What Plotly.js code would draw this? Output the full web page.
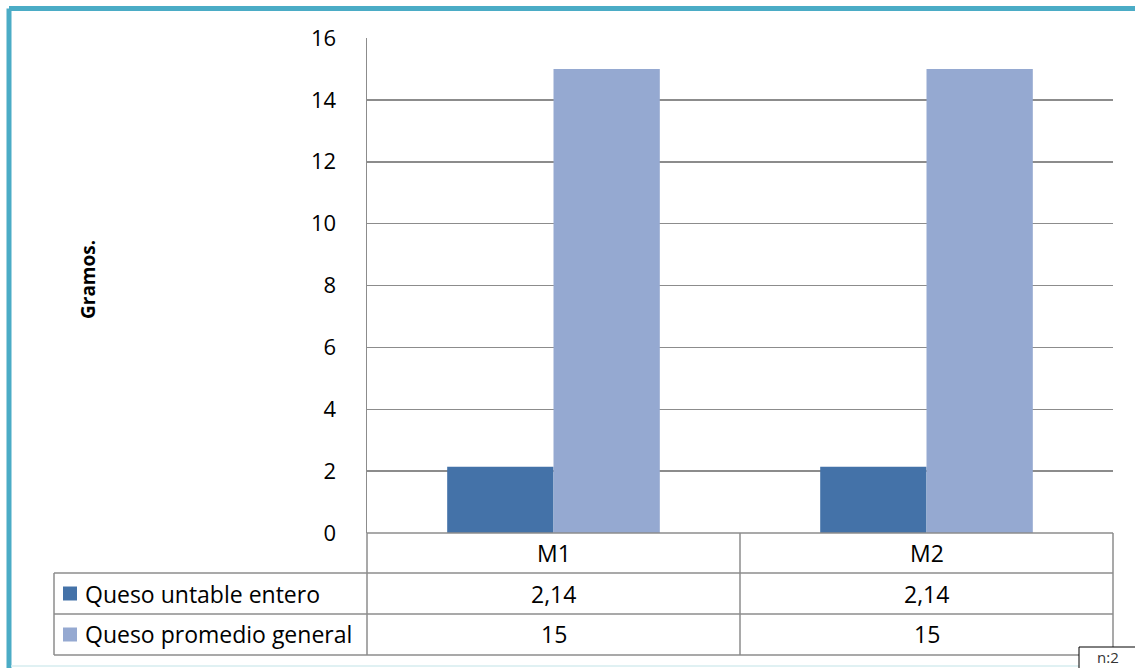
<!DOCTYPE html>
<html><head><meta charset="utf-8">
<script src="https://cdn.plot.ly/plotly-3.0.1.min.js"></script>
<style>html,body{margin:0;padding:0;background:#fff;}#chart{width:1135px;height:668px;}</style>
</head><body><div id="chart"></div>
<script>
const categories = ['M1', 'M2'];
const seriesNames = ['Queso untable entero', 'Queso promedio general'];
const untable = [2.14, 2.14];
const promedio = [15, 15];
const yTicks = [0, 2, 4, 6, 8, 10, 12, 14, 16];
const yTitle = 'Gramos.';
const note = 'n:2';

const colors = ['#4472A8', '#95A9D1'];
const FONT = '"Open Sans", "Noto Sans", sans-serif';
const FS = 23;
const W = 1135, H = 668;
const L = 367, R = 1113, T = 38, B = 533;
const px = x => (x - L) / (R - L);
const py = y => (B - y) / (B - T);
const fmt = v => String(v).replace('.', ',');

const traces = [
  {type: 'bar', x: categories, y: untable, name: seriesNames[0], marker: {color: colors[0]}, hoverinfo: 'y'},
  {type: 'bar', x: categories, y: promedio, name: seriesNames[1], marker: {color: colors[1]}, hoverinfo: 'y'}
];

const lineCol = '#8c8c8c';
const shapes = [];
const annotations = [];
function hl(x0, x1, y) { shapes.push({type: 'line', xref: 'paper', yref: 'paper', x0: px(x0), x1: px(x1), y0: py(y), y1: py(y), line: {color: lineCol, width: 1.5}, layer: 'above'}); }
function vl(x, y0, y1) { shapes.push({type: 'line', xref: 'paper', yref: 'paper', x0: px(x), x1: px(x), y0: py(y0), y1: py(y1), line: {color: lineCol, width: 1.5}, layer: 'above'}); }
function txt(x, y, t, opts) {
  annotations.push(Object.assign({xref: 'paper', yref: 'paper', x: px(x), y: py(y), text: t, showarrow: false,
    xanchor: 'center', yanchor: 'middle', font: {family: FONT, size: FS, color: '#000'}}, opts || {}));
}

// outer frame (teal, top + left) and pale bottom line
shapes.push({type: 'line', xref: 'paper', yref: 'paper', x0: px(9), x1: px(1140), y0: py(8.5), y1: py(8.5), line: {color: '#4BACC6', width: 5}});
shapes.push({type: 'line', xref: 'paper', yref: 'paper', x0: px(9), x1: px(9), y0: py(8.5), y1: py(672), line: {color: '#4BACC6', width: 5}});
shapes.push({type: 'line', xref: 'paper', yref: 'paper', x0: px(11), x1: px(1140), y0: py(666), y1: py(666), line: {color: '#d6ecef', width: 1.5}});

// data table grid
const rowY = [533, 573, 614, 655];
const colX = [367, 740, 1113];
vl(367, 533, 655); vl(740, 533, 655); vl(1113, 533, 655); vl(54, 573, 655);
hl(367, 1113, 533); hl(54, 1113, 573); hl(54, 1113, 614); hl(54, 1113, 655);

// header row
categories.forEach((c, i) => txt((colX[i] + colX[i + 1]) / 2, (rowY[0] + rowY[1]) / 2, c));
// series rows
[untable, promedio].forEach((vals, r) => {
  const yc = (rowY[r + 1] + rowY[r + 2]) / 2;
  shapes.push({type: 'rect', xref: 'paper', yref: 'paper', x0: px(63), x1: px(77), y0: py(yc - 7), y1: py(yc + 7), fillcolor: colors[r], line: {width: 0}});
  txt(83, yc, seriesNames[r], {xanchor: 'left'});
  vals.forEach((v, i) => txt((colX[i] + colX[i + 1]) / 2, yc, fmt(v)));
});

// y title
txt(88, 280, '<b>' + yTitle + '</b>', {textangle: -90, font: {family: FONT, size: 19, color: '#000'}});

// n:2 box
shapes.push({type: 'rect', xref: 'paper', yref: 'paper', x0: px(1079), x1: px(1140), y0: py(647), y1: py(672), fillcolor: '#fff', line: {color: '#000', width: 1}, layer: 'above'});
txt(1108, 657, note, {font: {family: FONT, size: 15, color: '#333'}});

const layout = {
  width: W, height: H,
  margin: {l: L, r: W - R, t: T, b: H - B},
  paper_bgcolor: '#fff', plot_bgcolor: '#fff',
  showlegend: false,
  barmode: 'group', bargap: 0.43, bargroupgap: 0,
  font: {family: FONT, size: FS, color: '#000'},
  xaxis: {type: 'category', showticklabels: false, showgrid: false, zeroline: false, showline: false, ticks: ''},
  yaxis: {range: [0, 16], tickvals: yTicks, ticktext: yTicks.map(String), showgrid: true, gridcolor: lineCol, gridwidth: 1.5,
    zeroline: false, showline: true, linecolor: lineCol, linewidth: 1.5, ticks: '', ticklabelstandoff: 25,
    tickfont: {family: FONT, size: FS - 1, color: '#000'}},
  shapes: shapes, annotations: annotations
};

Plotly.newPlot('chart', traces, layout, {displayModeBar: false, staticPlot: true});
</script></body></html>
